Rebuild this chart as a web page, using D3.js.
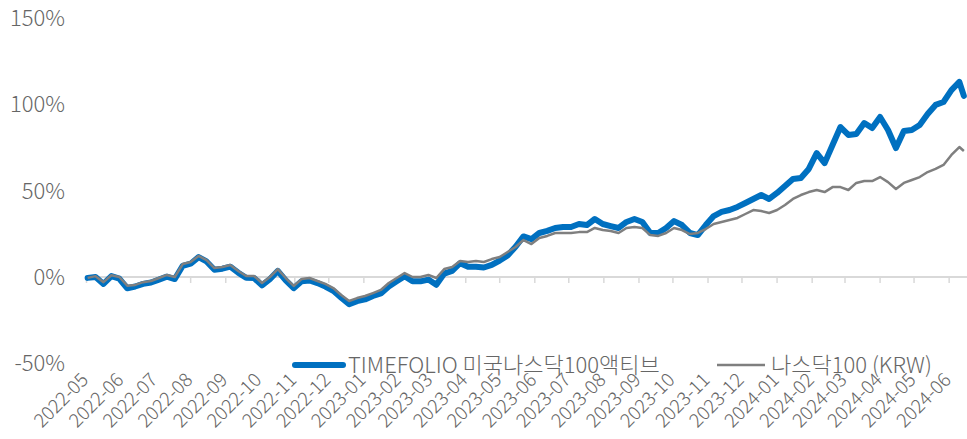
<!DOCTYPE html>
<html>
<head>
<meta charset="utf-8">
<script src="https://cdn.jsdelivr.net/npm/d3@7"></script>
<style>
  body { margin: 0; background: #fff; }
  svg { display: block; font-family: "Noto Sans CJK KR", "Noto Sans", sans-serif; font-weight: 300; }
</style>
</head>
<body>
<script>
// chart size
var width = 967,
    height = 439;

// weekly closes, cumulative return in %, first week starts 2022-05-02
var firstWeek = "2022-05-02";
var lastDay = "2024-06-14";

var seriesNames = ["TIMEFOLIO 미국나스닥100액티브", "나스닥100 (KRW)"];

var timefolio = [-0.5, 0, -4, 0.5, -1, -6.5, -5.5, -4, -3.2, -1.5, 0.2, -1.2, 6.5, 7.7, 11.5, 9, 4.2, 4.8, 6, 2.5,
  -0.5, -0.6, -4.8, -1.2, 3.5, -2, -6.5, -2.5, -2, -3.5, -5.5, -8, -12, -15.8, -14, -13, -11, -9.5, -5.5, -2.5,
  0.5, -2.5, -2.5, -1.5, -4.5, 2, 3.5, 8, 6, 6, 5.5, 7, 9.5, 12.5, 17.5, 23.5, 22,
  25.5, 26.7, 28.4, 29, 29, 30.7, 30.1, 33.6, 30.7, 29.5, 28.4, 31.9, 33.6, 31.9, 25.5, 25.5, 28.4, 32.4, 30.1,
  25.5, 24.3, 30.1, 35.3, 37.7, 38.8, 40.6, 42.9, 45.2, 47.5, 45.2, 48.7, 52.7, 56.8, 57.4, 62.6, 71.8, 66, 76.5,
  86.9, 82.3, 82.9, 89.2, 86.3, 92.7, 85.2, 74.7, 84.6, 85.2, 88.1, 94.4, 99.7, 101.4, 108.3, 113,
  104.9];

var nasdaq = [-0.5, 0.5, -3, 1, 0, -5, -4.6, -3, -2.3, -0.6, 1.2, 0, 7.5, 8.7, 12.2, 9.8, 5.2, 5.8, 7, 3.5,
  0.6, 0.6, -3.5, 0, 4.6, -0.6, -5.2, -1.2, -0.6, -2.3, -4, -6.4, -10.4, -13.9, -12.2, -11, -9.3, -7.5, -3.5, -0.6,
  2.3, 0, 0, 1.2, -0.6, 4.6, 5.8, 9.3, 8.7, 9.3, 8.7, 10.4, 11.6, 14.5, 17.4, 21.4, 19.1,
  22.6, 23.8, 25.5, 25.5, 25.5, 26, 26, 28.4, 27.2, 26.7, 25.5, 28.4, 29, 28.4, 24.3, 23.8, 25.5, 28.4, 27.2,
  24.9, 25.5, 27.8, 30.7, 31.9, 33, 34.2, 36.5, 38.8, 38.2, 37.1, 38.8, 41.7, 45.2, 47.5, 49.2, 50.4, 49.2, 52.1,
  52.1, 50.4, 54.5, 55.6, 55.6, 57.9, 55, 51, 54.5, 56.2, 57.9, 60.8, 62.6, 64.9, 70.7, 75.3,
  73];

var yTicks = [-50, 0, 50, 100, 150];
var xStart = "2022-05-01",
    xEnd = "2024-06-15";

var parse = d3.timeParse("%Y-%m-%d");

// dates: one per week, last one is the final trading day
var dates = timefolio.map(function(d, i) {
  if (i == timefolio.length - 1) return parse(lastDay);
  return d3.timeDay.offset(parse(firstWeek), i * 7);
});

var svg = d3.select("body").append("svg")
    .attr("width", width)
    .attr("height", height);

var x = d3.scaleTime()
    .domain([parse(xStart), parse(xEnd)])
    .range([86.5, 965]);

var y = d3.scaleLinear()
    .domain([-50, 150])
    .range([363.3, 18.1]);

// y labels
svg.selectAll("text.ylab")
  .data(yTicks)
  .enter().append("text")
  .attr("class", "ylab")
  .attr("x", 65)
  .attr("y", function(d){ return y(d); })
  .attr("dy", "0.36em")
  .attr("text-anchor", "end")
  .attr("font-size", 22)
  .attr("fill", "#666")
  .text(function(d){ return d + "%"; });

// zero line with month ticks
var months = d3.timeMonth.range(parse(xStart), d3.timeDay.offset(parse("2024-06-01"), 1));

svg.append("line")
  .attr("x1", 85).attr("x2", width)
  .attr("y1", y(0)).attr("y2", y(0))
  .attr("stroke", "#d9d9d9")
  .attr("stroke-width", 2);

svg.selectAll("line.tick")
  .data(months)
  .enter().append("line")
  .attr("class", "tick")
  .attr("x1", function(d){ return x(d); })
  .attr("x2", function(d){ return x(d); })
  .attr("y1", y(0))
  .attr("y2", y(0) + 6)
  .attr("stroke", "#d9d9d9")
  .attr("stroke-width", 1.5);

// rotated month labels at the bottom
var fmt = d3.timeFormat("%Y-%m");
svg.selectAll("text.xlab")
  .data(months)
  .enter().append("text")
  .attr("class", "xlab")
  .attr("transform", function(d){
    return "translate(" + (x(d) + 3) + ",381) rotate(-45)";
  })
  .attr("text-anchor", "end")
  .attr("font-size", 19)
  .attr("fill", "#666")
  .text(function(d){ return fmt(d); });

// lines
var line = function(vals) {
  return d3.line()
    .x(function(d, i){ return x(dates[i]); })
    .y(function(d){ return y(d); })(vals);
};

svg.append("path")
  .attr("d", line(timefolio))
  .attr("fill", "none")
  .attr("stroke", "#0070c0")
  .attr("stroke-width", 6)
  .attr("stroke-linejoin", "round")
  .attr("stroke-linecap", "round");

svg.append("path")
  .attr("d", line(nasdaq))
  .attr("fill", "none")
  .attr("stroke", "#7f7f7f")
  .attr("stroke-width", 2.5)
  .attr("stroke-linejoin", "round");

// legend
var legendY = 365;
svg.append("line")
  .attr("x1", 295).attr("x2", 343)
  .attr("y1", legendY).attr("y2", legendY)
  .attr("stroke", "#0070c0")
  .attr("stroke-width", 6)
  .attr("stroke-linecap", "round");
svg.append("text")
  .attr("x", 348).attr("y", legendY)
  .attr("dy", "0.36em")
  .attr("font-size", 22)
  .attr("fill", "#666")
  .text(seriesNames[0]);

svg.append("line")
  .attr("x1", 717).attr("x2", 765)
  .attr("y1", legendY).attr("y2", legendY)
  .attr("stroke", "#7f7f7f")
  .attr("stroke-width", 2.5);
svg.append("text")
  .attr("x", 771).attr("y", legendY)
  .attr("dy", "0.36em")
  .attr("font-size", 22)
  .attr("fill", "#666")
  .text(seriesNames[1]);
</script>
</body>
</html>
